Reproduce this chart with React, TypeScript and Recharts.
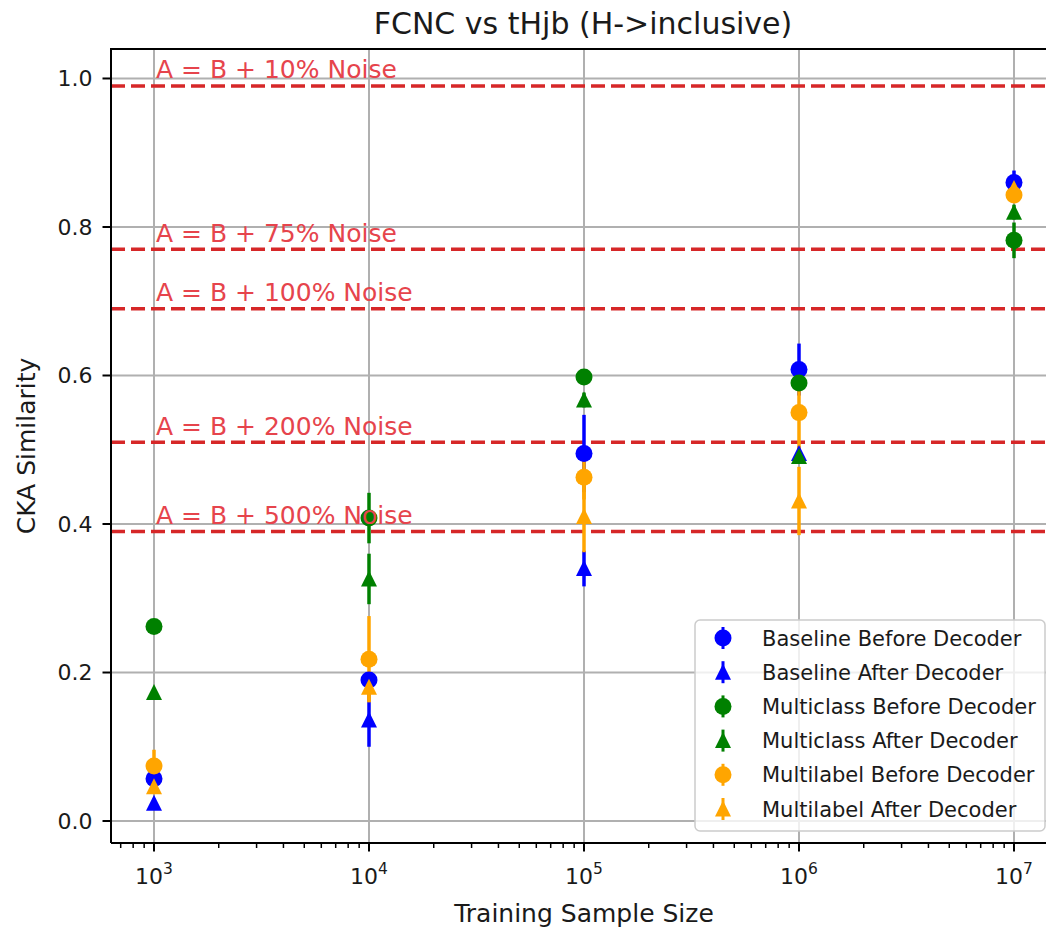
import React from 'react';
import { ScatterChart, Scatter, XAxis, YAxis, CartesianGrid, ErrorBar, ReferenceLine } from 'recharts';

// ---------- data ----------
const sampleSizes = [1e3, 1e4, 1e5, 1e6, 1e7];

const baselineBefore = [0.057, 0.19, 0.495, 0.608, 0.86];
const baselineBeforeErr = [0.006, 0.01, 0.052, 0.035, 0.016];
const baselineAfter = [0.024, 0.136, 0.34, 0.495, 0.855];
const baselineAfterErr = [0.006, 0.036, 0.024, 0.01, 0.008];
const multiclassBefore = [0.262, 0.408, 0.598, 0.59, 0.782];
const multiclassBeforeErr = [0.006, 0.034, 0.006, 0.01, 0.024];
const multiclassAfter = [0.173, 0.326, 0.567, 0.491, 0.82];
const multiclassAfterErr = [0.006, 0.034, 0.01, 0.01, 0.01];
const multilabelBefore = [0.074, 0.218, 0.463, 0.55, 0.843];
const multilabelBeforeErr = [0.022, 0.058, 0.03, 0.05, 0.01];
const multilabelAfter = [0.046, 0.18, 0.41, 0.431, 0.852];
const multilabelAfterErr = [0.006, 0.02, 0.048, 0.046, 0.01];

const noiseLevels = [0.99, 0.77, 0.69, 0.51, 0.39];
const noiseLabels = [
  'A = B + 10% Noise',
  'A = B + 75% Noise',
  'A = B + 100% Noise',
  'A = B + 200% Noise',
  'A = B + 500% Noise',
];
const noiseLabelX = 1e3;
const noiseLabelLift = 0.01;

const majorXTicks = [1e3, 1e4, 1e5, 1e6, 1e7];
const yTicks = [0, 0.2, 0.4, 0.6, 0.8, 1.0];
const xDomain: [number, number] = [Math.pow(10, 2.8), Math.pow(10, 7.2)];
const yDomain: [number, number] = [-0.0296, 1.0397];

const minorXTicks: number[] = [];
for (let d = 2; d <= 6; d++) {
  for (let k = 2; k <= 9; k++) {
    const v = k * Math.pow(10, d);
    if (v > xDomain[0] && v < xDomain[1]) minorXTicks.push(v);
  }
}
const allXTicks = [...majorXTicks, ...minorXTicks].sort((a, b) => a - b);

const series = [
  { name: 'Baseline Before Decoder', color: '#0000ff', shape: 'circle', values: baselineBefore, errs: baselineBeforeErr },
  { name: 'Baseline After Decoder', color: '#0000ff', shape: 'triangle', values: baselineAfter, errs: baselineAfterErr },
  { name: 'Multiclass Before Decoder', color: '#008000', shape: 'circle', values: multiclassBefore, errs: multiclassBeforeErr },
  { name: 'Multiclass After Decoder', color: '#008000', shape: 'triangle', values: multiclassAfter, errs: multiclassAfterErr },
  { name: 'Multilabel Before Decoder', color: '#ffa500', shape: 'circle', values: multilabelBefore, errs: multilabelBeforeErr },
  { name: 'Multilabel After Decoder', color: '#ffa500', shape: 'triangle', values: multilabelAfter, errs: multilabelAfterErr },
];

const FONT = 'DejaVu Sans, sans-serif';
const TEXT = '#1a1a1a';

const drawMarker = (cx: number, cy: number, shape: string, color: string) =>
  shape === 'circle' ? (
    <circle cx={cx} cy={cy} r={8.5} fill={color} />
  ) : (
    <path d={`M${cx},${cy - 8.5} L${cx + 8},${cy + 7.5} L${cx - 8},${cy + 7.5} Z`} fill={color} />
  );

const XTick = (props: any) => {
  const { x, y, payload } = props;
  const v = payload.value;
  const isMajor = majorXTicks.some((m) => Math.abs(m - v) / m < 1e-9);
  const exp = Math.round(Math.log10(v));
  return (
    <g>
      <line x1={x} x2={x} y1={y} y2={y + (isMajor ? 8.5 : 5)} stroke="#000" strokeWidth={isMajor ? 2 : 1.5} />
      {isMajor && (
        <text x={x} y={y + 41} textAnchor="middle" fontSize={22} fill={TEXT} fontFamily={FONT}>
          10
          <tspan dy={-10} fontSize={15.5}>
            {exp}
          </tspan>
        </text>
      )}
    </g>
  );
};

export default function App() {
  const noiseData = noiseLevels.map((v, i) => ({ x: noiseLabelX, y: v + noiseLabelLift, label: noiseLabels[i] }));
  return (
    <div style={{ position: 'absolute', left: 0, top: 0, width: 1046, height: 928, overflow: 'hidden', background: '#fff' }}>
      <ScatterChart width={1049} height={928} margin={{ top: 49, right: -8, bottom: 0, left: 0 }}>
        <CartesianGrid
          stroke="#b0b0b0"
          strokeWidth={2}
          verticalValues={majorXTicks}
          horizontalValues={yTicks}
          syncWithTicks
        />
        <XAxis
          type="number"
          scale="log"
          dataKey="x"
          domain={xDomain}
          allowDataOverflow
          ticks={allXTicks}
          interval={0}
          tick={<XTick />}
          tickLine={false}
          tickSize={0}
          tickMargin={0}
          height={85}
          axisLine={{ stroke: '#000', strokeWidth: 2 }}
        />
        <YAxis
          type="number"
          dataKey="y"
          domain={yDomain}
          allowDataOverflow
          ticks={yTicks}
          interval={0}
          tickFormatter={(v: number) => v.toFixed(1)}
          width={111}
          tickSize={8.5}
          tickMargin={10}
          tick={{ fontSize: 22, fill: TEXT, fontFamily: FONT }}
          axisLine={{ stroke: '#000', strokeWidth: 2 }}
          tickLine={{ stroke: '#000', strokeWidth: 2 }}
        />
        {noiseLevels.map((v) => (
          <ReferenceLine key={v} y={v} stroke="#d62728" strokeWidth={3.5} strokeDasharray="14 6" />
        ))}
        {series.map((s) => (
          <Scatter
            key={s.name}
            name={s.name}
            data={sampleSizes.map((x, i) => ({ x, y: s.values[i], err: s.errs[i] }))}
            fill={s.color}
            isAnimationActive={false}
            shape={(p: any) => drawMarker(p.cx, p.cy, s.shape, s.color)}
          >
            <ErrorBar dataKey="err" direction="y" width={0} strokeWidth={3.5} stroke={s.color} />
          </Scatter>
        ))}
        <Scatter
          name="noise-labels"
          data={noiseData}
          legendType="none"
          isAnimationActive={false}
          shape={(p: any) => (
            <text x={p.cx + 2} y={p.cy} fontSize={25} fill="#e6444c" fontFamily={FONT}>
              {p.payload.label}
            </text>
          )}
        />
      </ScatterChart>
      <svg
        width={1049}
        height={928}
        style={{ position: 'absolute', left: 0, top: 0, pointerEvents: 'none' }}
      >
        <line x1={110} x2={1049} y1={49} y2={49} stroke="#000" strokeWidth={2} />
        <text x={583} y={34} textAnchor="middle" fontSize={30} fill={TEXT} fontFamily={FONT}>
          FCNC vs tHjb (H-&gt;inclusive)
        </text>
        <text x={584} y={922} textAnchor="middle" fontSize={25} fill={TEXT} fontFamily={FONT}>
          Training Sample Size
        </text>
        <text
          x={35}
          y={446}
          transform="rotate(-90 35 446)"
          textAnchor="middle"
          fontSize={25}
          fill={TEXT}
          fontFamily={FONT}
        >
          CKA Similarity
        </text>
        <rect x={695} y={620} width={350} height={211} rx={5} fill="#fff" fillOpacity={0.8} stroke="#cccccc" strokeWidth={1.5} />
        {series.map((s, i) => {
          const cy = 638 + i * 34.2;
          return (
            <g key={s.name}>
              <line x1={723} x2={723} y1={cy - 11} y2={cy + 11} stroke={s.color} strokeWidth={3} />
              {drawMarker(723, cy, s.shape, s.color)}
              <text x={762} y={cy + 7.5} fontSize={21} fill={TEXT} fontFamily={FONT}>
                {s.name}
              </text>
            </g>
          );
        })}
      </svg>
    </div>
  );
}
